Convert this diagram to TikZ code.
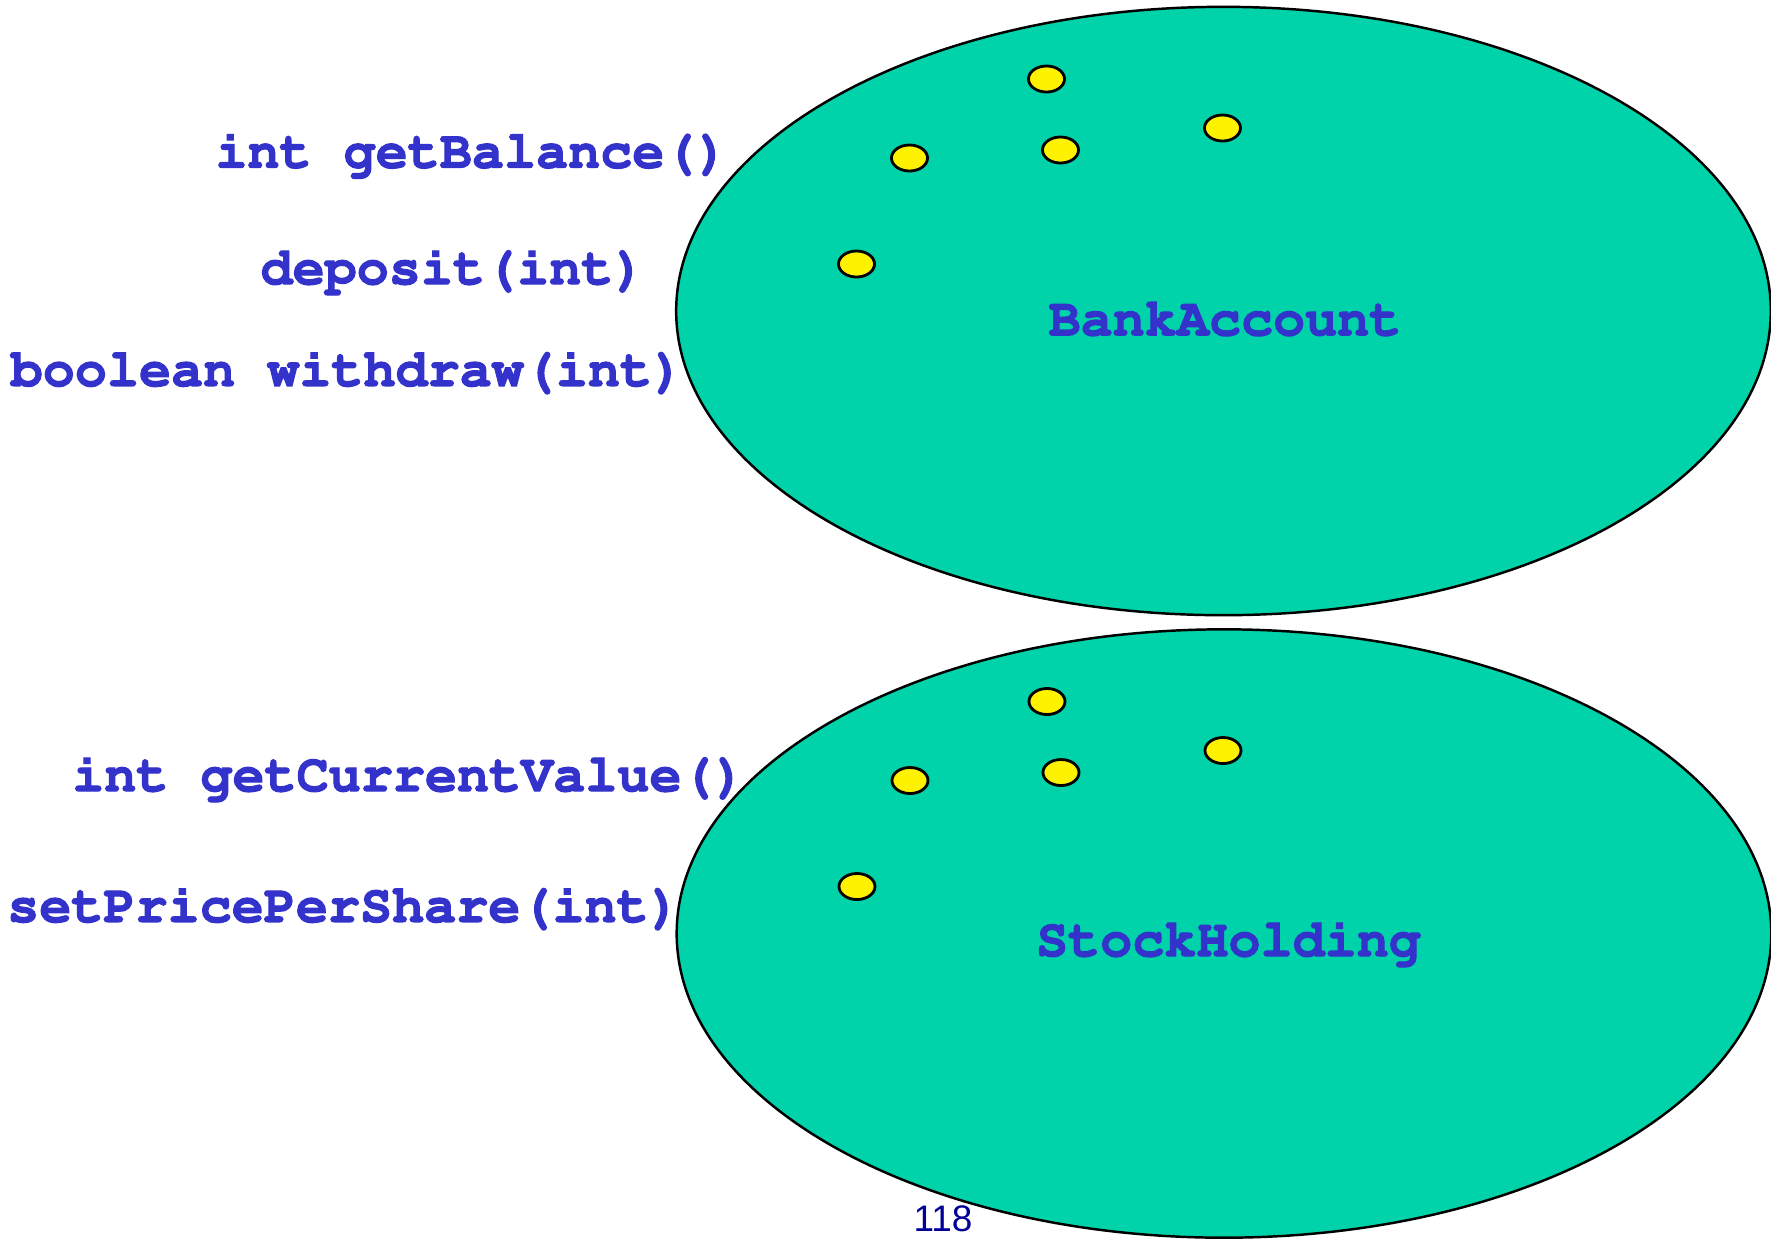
\documentclass[tikz,border=0pt]{standalone}
\usepackage[T1]{fontenc}
\usepackage{fontspec}
\usepackage{xcolor}
\usepackage{tikz}
\usetikzlibrary{calc,positioning,shapes.geometric}
\newfontfamily\slidefont{Liberation Sans}
\newcommand{\courierbf}{\fontencoding{T1}\fontfamily{pcr}\bfseries\fontsize{15.2}{18}\selectfont}
\newcommand{\heavy}[1]{\special{pdf:literal direct 2 Tr 0.3 w}#1\special{pdf:literal direct 0 Tr}}
\definecolor{objteal}{RGB}{0,210,170}
\definecolor{methblue}{RGB}{51,51,204}
\definecolor{pageblue}{RGB}{0,0,153}

\begin{document}
\begin{tikzpicture}[x=0.01cm, y=-0.01cm,
    obj/.style={ellipse, draw, line width=0.7pt, fill=objteal, minimum width=10.94cm, minimum height=6.08cm, inner sep=0pt},
    fld/.style={ellipse, draw, line width=0.8pt, fill=yellow, minimum width=0.36cm, minimum height=0.26cm, inner sep=0pt},
    meth/.style={inner sep=0pt, text=methblue, font=\courierbf}]
    \useasboundingbox (0,0) rectangle (1771,1238);

    \node[obj] (bank) at (1223.5, 311) {};
    \node[obj] (stock) at (1224, 933.5) {};

    \foreach \o in {bank, stock} {
        \foreach \dx/\dy [count=\i] in {-177/-232, -314/-153, -163/-161, -1/-183, -367/-47} {
            \node[fld] (\o-f\i) at ($(\o.center) + (\dx, \dy)$) {};
        }
    }

    \node[meth] (bankname) at (1225, 319) {\heavy{BankAccount}};
    \node[meth] (stockname) at (1228.5, 942) {\heavy{StockHolding}};

    \node[meth] (getbal) at (472, 153.5) {\heavy{int getBalance()}};
    \node[meth] (deposit) at (453, 270) {\heavy{deposit(int)}};
    \node[meth] (withdraw) at (347.5, 371) {\heavy{boolean withdraw(int)}};

    \node[meth] (getcur) at (409, 777) {\heavy{int getCurrentValue()}};
    \node[meth] (setprice) at (344, 907) {\heavy{setPricePerShare(int)}};

    \node[font=\slidefont\fontsize{10.5}{12}\selectfont, text=pageblue, anchor=base, inner sep=0pt] (pagenum) at (943, 1231) {118};
\end{tikzpicture}
\end{document}
